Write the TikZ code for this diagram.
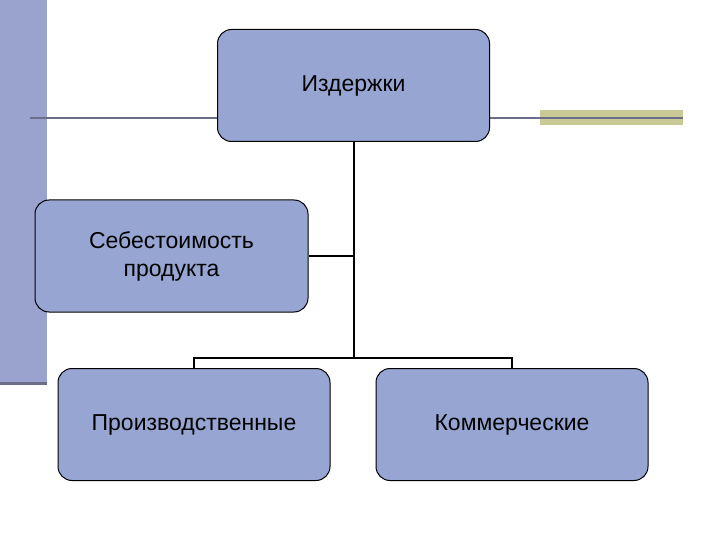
\documentclass[tikz,border=0pt]{standalone}
\usepackage{fontspec}
\setmainfont{Liberation Sans}
\begin{document}
\begin{tikzpicture}[x=1pt,y=-1pt,
  box/.style={draw=black,line width=1pt,fill=boxblue,rounded corners=14pt,minimum width=272pt,minimum height=112pt,align=center,font=\fontsize{23}{28}\selectfont,text=black},
  conn/.style={draw=black,line width=2pt}]
\definecolor{boxblue}{HTML}{97A5D2}
\definecolor{barblue}{HTML}{9AA3CE}
\definecolor{olive}{HTML}{C9C996}
\definecolor{lgray}{HTML}{6B6E88}
\useasboundingbox (0,0) rectangle (720,540);
\fill[barblue] (0,0) rectangle (47,385);
\draw[lgray,line width=3pt] (0,383.5) -- (47,383.5);
\fill[olive] (540,110) rectangle (683,125);
\draw[lgray,line width=2.5pt] (30,118) -- (683,118);
\node[box] (top) at (353.5,85.5) {Издержки};
\node[box,minimum width=273pt] (seb) at (171.5,256) {Себестоимость\\ продукта};
\node[box] (prod) at (194,424.5) {Производственные};
\node[box] (kom) at (512,424.5) {Коммерческие};
\coordinate (j) at (353.5,358);
\coordinate (jl) at (194,358);
\coordinate (jr) at (512,358);
\draw[conn] (top.south) -- (j);
\draw[conn] (seb.east) -- (seb.east -| top.south);
\draw[conn] (prod.north) -- (jl) -- (jr) -- (kom.north);
\end{tikzpicture}
\end{document}
